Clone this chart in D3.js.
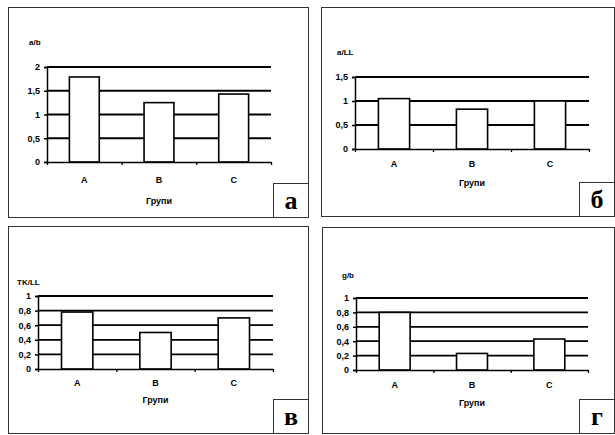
<!DOCTYPE html>
<html><head><meta charset="utf-8">
<script src="https://cdn.jsdelivr.net/npm/d3@7"></script>
<style>
body{margin:0;background:#fff;}
svg{display:block;}
</style></head>
<body>
<svg id="chart" width="615" height="435"></svg>
<script>
const categories = ["A", "B", "C"];
const xTitle = "Групи";

const valuesA = [1.79, 1.25, 1.43];
const ticksA = [0, 0.5, 1, 1.5, 2];
const titleA = "a/b";

const valuesB = [1.05, 0.83, 1.0];
const ticksB = [0, 0.5, 1, 1.5];
const titleB = "a/LL";

const valuesC = [0.78, 0.50, 0.70];
const ticksC = [0, 0.2, 0.4, 0.6, 0.8, 1];
const titleC = "TK/LL";

const valuesD = [0.80, 0.23, 0.43];
const ticksD = [0, 0.2, 0.4, 0.6, 0.8, 1];
const titleD = "g/b";

const panelLetters = ["а", "б", "в", "г"];

const svg = d3.select("#chart");
const fmt = v => String(+v.toFixed(2)).replace(".", ",");

const panels = [
  {vals: valuesA, ticks: ticksA, title: titleA, letter: panelLetters[0],
   frame: [8, 7, 308, 217], plot: [47, 271, 162, 67], titlePos: [29, 45], catY: 183, xtY: 204},
  {vals: valuesB, ticks: ticksB, title: titleB, letter: panelLetters[1],
   frame: [321, 7, 614, 216], plot: [355, 589, 149, 77], titlePos: [337, 55], catY: 167, xtY: 186},
  {vals: valuesC, ticks: ticksC, title: titleC, letter: panelLetters[2],
   frame: [8, 226, 308, 433], plot: [38, 273, 369, 296], titlePos: [17, 285], catY: 386, xtY: 403},
  {vals: valuesD, ticks: ticksD, title: titleD, letter: panelLetters[3],
   frame: [322, 227, 614, 433], plot: [356, 588, 370, 298], titlePos: [342, 278], catY: 388, xtY: 406}
];

panels.forEach(p => {
  const g = svg.append("g");
  const [fx0, fy0, fx1, fy1] = p.frame;
  g.append("rect").attr("x", fx0 + 0.5).attr("y", fy0 + 0.5)
    .attr("width", fx1 - fx0).attr("height", fy1 - fy0)
    .attr("fill", "none").attr("stroke", "#333").attr("stroke-width", 1);

  const [x0, x1, y0, yTop] = p.plot;
  const ymax = p.ticks[p.ticks.length - 1];
  const y = d3.scaleLinear().domain([0, ymax]).range([y0, yTop]);
  const x = d3.scaleBand().domain(categories).range([x0, x1]).paddingInner(0.6).paddingOuter(0.3);

  // gridlines
  g.selectAll(".grid").data(p.ticks.filter(t => t > 0)).enter().append("line")
    .attr("x1", x0).attr("x2", x1)
    .attr("y1", d => y(d)).attr("y2", d => y(d))
    .attr("stroke", "#000").attr("stroke-width", 1.8);

  // bars
  g.selectAll(".bar").data(p.vals).enter().append("rect")
    .attr("x", (d, i) => x(categories[i]))
    .attr("y", d => y(d))
    .attr("width", x.bandwidth())
    .attr("height", d => y0 - y(d))
    .attr("fill", "#fff").attr("stroke", "#000").attr("stroke-width", 1.6);

  // y axis
  const yAxis = d3.axisLeft(y).tickValues(p.ticks).tickFormat(fmt).tickSize(3).tickPadding(4);
  const ya = g.append("g").attr("transform", `translate(${x0},0)`).call(yAxis);
  ya.select(".domain").attr("stroke", "#000").attr("stroke-width", 1.5);
  ya.selectAll(".tick line").attr("stroke", "#000").attr("stroke-width", 1.5);
  ya.selectAll("text").attr("font-family", "Liberation Sans, Arial, sans-serif")
    .attr("font-size", 9).attr("font-weight", "bold").attr("fill", "#000");

  // x axis with boundary ticks
  const xb = d3.scaleLinear().domain([0, 3]).range([x0, x1]);
  const xAxis = d3.axisBottom(xb).tickValues([0, 1, 2, 3]).tickFormat("").tickSize(3).tickSizeOuter(0);
  const xa = g.append("g").attr("transform", `translate(0,${y0})`).call(xAxis);
  xa.select(".domain").attr("stroke", "#000").attr("stroke-width", 1.6);
  xa.selectAll(".tick line").attr("stroke", "#000").attr("stroke-width", 1.3);

  g.selectAll(".cat").data(categories).enter().append("text")
    .attr("x", d => x(d) + x.bandwidth() / 2).attr("y", p.catY)
    .attr("text-anchor", "middle")
    .attr("font-family", "Liberation Sans, Arial, sans-serif")
    .attr("font-size", 9).attr("font-weight", "bold").text(d => d);

  g.append("text").attr("x", (x0 + x1) / 2).attr("y", p.xtY)
    .attr("text-anchor", "middle")
    .attr("font-family", "Liberation Sans, Arial, sans-serif")
    .attr("font-size", 9).attr("font-weight", "bold").text(xTitle);

  g.append("text").attr("x", p.titlePos[0]).attr("y", p.titlePos[1])
    .attr("font-family", "Liberation Sans, Arial, sans-serif")
    .attr("font-size", 8).attr("font-weight", "bold").text(p.title);

  // letter box
  const bw = 35, bh = 34;
  g.append("rect").attr("x", fx1 - bw + 0.5).attr("y", fy1 - bh + 0.5)
    .attr("width", bw).attr("height", bh)
    .attr("fill", "#fff").attr("stroke", "#333").attr("stroke-width", 1);
  g.append("text").attr("x", fx1 - bw / 2 + 0.5).attr("y", fy1 - 8)
    .attr("text-anchor", "middle")
    .attr("font-family", "Liberation Serif, Times New Roman, serif")
    .attr("font-size", 26).attr("font-weight", "bold").text(p.letter);
});
</script>
</body></html>
